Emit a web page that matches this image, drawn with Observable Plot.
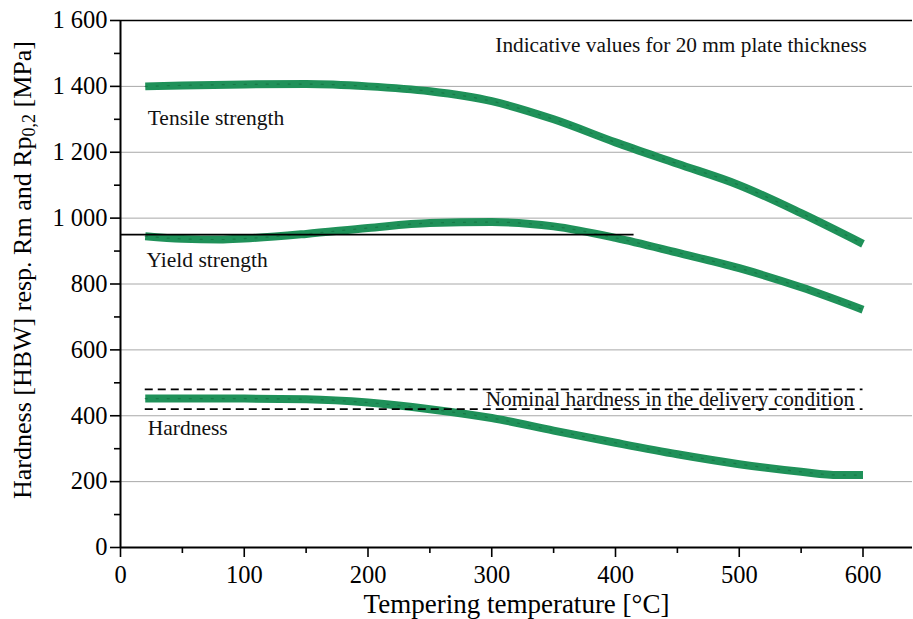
<!DOCTYPE html>
<html>
<head>
<meta charset="utf-8">
<script src="https://cdn.jsdelivr.net/npm/d3@7"></script>
<script src="https://cdn.jsdelivr.net/npm/@observablehq/plot@0.6"></script>
<style>
  html, body { margin: 0; padding: 0; background: #fff; }
  #chart svg { display: block; }
  #chart svg, #chart svg text, #chart svg g { font-family: "Liberation Serif", "Times New Roman", serif !important; }
</style>
</head>
<body>
<div id="chart"></div>
<script>
// ---- data ----
const tensileT = [20, 50, 100, 150, 200, 250, 300, 350, 400, 450, 500, 550, 600];
const tensileV = [1400, 1403, 1406, 1407, 1400, 1385, 1355, 1300, 1230, 1165, 1100, 1015, 922];

const yieldT = [20, 50, 80, 100, 150, 200, 250, 300, 350, 400, 450, 500, 550, 600];
const yieldV = [945, 937, 935, 938, 952, 970, 985, 988, 975, 940, 895, 848, 790, 722];

const hardT = [20, 50, 100, 150, 200, 250, 300, 350, 400, 450, 500, 550, 580, 600];
const hardV = [452, 452, 452, 450, 440, 420, 393, 355, 318, 283, 253, 230, 220, 220];

const nominalHardness = [420, 480];
const nominalRange = [20, 600];
const yieldRef = 950;
const yieldRefRange = [0, 415];

const yMajor = [0, 200, 400, 600, 800, 1000, 1200, 1400, 1600];
const yMinor = [100, 300, 500, 700, 900, 1100, 1300, 1500];
const yGrid = [200, 400, 600, 800, 1000, 1200, 1400];
const xMajor = [0, 100, 200, 300, 400, 500, 600];
const xMinor = [50, 150, 250, 350, 450, 550];

const labels = [
  {t: 22, v: 1305, text: "Tensile strength"},
  {t: 21, v: 874, text: "Yield strength"},
  {t: 22, v: 363, text: "Hardness"}
];
const noteIndicative = {t: 603, v: 1524, text: "Indicative values for 20 mm plate thickness"};
const noteNominal = {t: 444, v: 449, text: "Nominal hardness in the delivery condition"};

// ---- build ----
const serif = "'Liberation Serif', 'Times New Roman', serif";
const toRows = (ts, vs) => ts.map((t, i) => ({t, v: vs[i]}));
const series = [toRows(tensileT, tensileV), toRows(yieldT, yieldV), toRows(hardT, hardV)];
const fmt = d => d >= 1000 ? String(d).replace(/(\d)(\d{3})$/, "$1 $2") : String(d);

const green = "#1f9159";
const greenDark = "#157444";

const lineMarks = series.flatMap(rows => [
  Plot.line(rows, {x: "t", y: "v", curve: "monotone-x", stroke: green, strokeWidth: 8, strokeLinecap: "butt"}),
  Plot.line(rows, {x: "t", y: "v", curve: "monotone-x", stroke: greenDark, strokeWidth: 1.2, strokeDasharray: "2,9", strokeOpacity: 0.8})
]);

const chart = Plot.plot({
  width: 913,
  height: 619,
  marginLeft: 120,
  marginRight: 1,
  marginTop: 20,
  marginBottom: 72,
  style: {fontFamily: serif, background: "#fff", color: "#000"},
  x: {domain: [0, 640]},
  y: {domain: [0, 1600]},
  marks: [
    Plot.gridY({ticks: yGrid, stroke: "#a8a8a8", strokeOpacity: 1, strokeWidth: 1}),
    ...lineMarks,
    Plot.ruleY(nominalHardness, {x1: nominalRange[0], x2: nominalRange[1], stroke: "#000", strokeWidth: 1.6, strokeDasharray: "8,5"}),
    Plot.ruleY([yieldRef], {x1: yieldRefRange[0], x2: yieldRefRange[1], stroke: "#000", strokeWidth: 1.8}),
    Plot.text(labels, {x: "t", y: "v", text: "text", textAnchor: "start", fontSize: 21.5, fontFamily: serif, fill: "#111"}),
    Plot.text([noteIndicative], {x: "t", y: "v", text: "text", textAnchor: "end", fontSize: 21.3, fontFamily: serif, fill: "#111"}),
    Plot.text([noteNominal], {x: "t", y: "v", text: "text", textAnchor: "middle", fontSize: 21.3, fontFamily: serif, fill: "#111"}),
    Plot.axisY({ticks: yMajor, tickSize: 10, tickPadding: 3, tickFormat: fmt, fontSize: 24.5, fontFamily: serif, label: null, stroke: "#000", strokeWidth: 1.6}),
    Plot.axisY({ticks: yMinor, tickSize: 6, fill: "none", label: null, stroke: "#000", strokeWidth: 1.6}),
    Plot.axisX({ticks: xMajor, tickSize: 10, tickPadding: 8, fontSize: 24.5, fontFamily: serif, label: "Tempering temperature [°C]", labelAnchor: "center", labelArrow: "none", labelOffset: 65, stroke: "#000", strokeWidth: 1.6}),
    Plot.axisX({ticks: xMinor, tickSize: 6, fill: "none", label: null, stroke: "#000", strokeWidth: 1.6}),
    Plot.ruleX([0], {y1: 0, y2: 1600, stroke: "#000", strokeWidth: 2}),
    Plot.ruleY([0], {stroke: "#000", strokeWidth: 2}),
    Plot.ruleY([1600], {stroke: "#000", strokeWidth: 1.6})
  ]
});

document.getElementById("chart").appendChild(chart);

// y-axis title with subscript
const svg = d3.select(chart);
svg.selectAll("g[aria-label='x-axis label'] text").attr("font-size", 27);
const yt = svg.append("text")
  .attr("transform", "translate(31,270) rotate(-90)")
  .attr("text-anchor", "middle")
  .attr("font-size", 26)
  .attr("fill", "#000")
  .attr("font-family", serif);
yt.append("tspan").text("Hardness [HBW] resp. Rm and Rp");
yt.append("tspan").attr("font-size", 18).attr("dy", 4).text("0,2");
yt.append("tspan").attr("dy", -4).text(" [MPa]");
</script>
</body>
</html>
